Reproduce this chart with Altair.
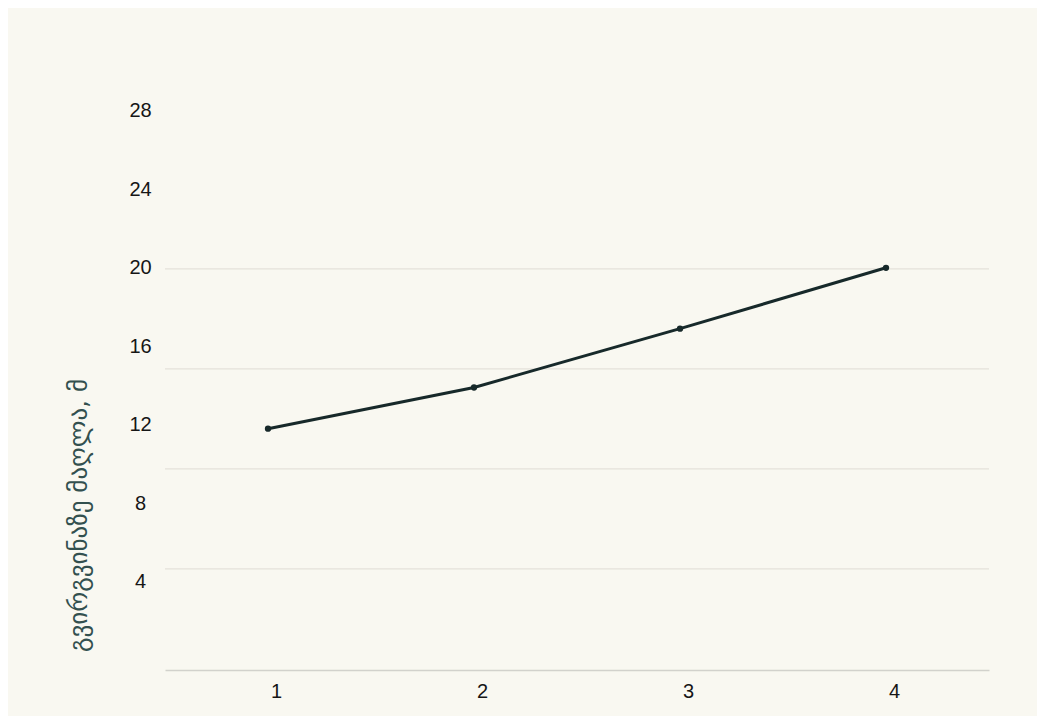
import altair as alt
import pandas as pd

# data
x_vals = [1, 2, 3, 4]
y_vals = [11.8, 13.9, 16.9, 20.0]
y_ticks = [4, 8, 12, 16, 20, 24, 28]
x_ticks = [1, 2, 3, 4]
grid_levels = [19.95, 14.85, 9.75, 4.65]
y_title = "გვირგვინაზე მაღლა, მ"

df = pd.DataFrame({"x": x_vals, "y": y_vals})
grid_df = pd.DataFrame({"g": grid_levels})

FONT = "Liberation Sans"
BG = "#f9f8f1"
LINE = "#17292a"

xscale = alt.Scale(domain=[0.5, 4.5], nice=False, zero=False)
yscale = alt.Scale(domain=[-0.5, 31], nice=False, zero=False)

x_axis = alt.Axis(
    values=x_ticks,
    title=None,
    grid=False,
    ticks=False,
    domain=True,
    domainColor="#d2d2cc",
    domainWidth=1.5,
    labelFont=FONT,
    labelFontSize=20,
    labelColor="#161616",
    labelPadding=11,
    labelOffset=8,
    format="d",
)

y_axis = alt.Axis(
    values=y_ticks,
    title=y_title,
    grid=False,
    ticks=False,
    domain=False,
    labelFont=FONT,
    labelFontSize=20,
    labelColor="#161616",
    labelAlign="center",
    labelPadding=25,
    titleFont="DejaVu Sans",
    titleFontSize=25,
    titleFontWeight="normal",
    titleColor="#33504f",
    titleAngle=270,
    titleAlign="center",
    titleBaseline="middle",
    titleX=-87,
    titleY=463,
)

grid = alt.Chart(grid_df).mark_rule(color="#e4e2da", strokeWidth=1.2).encode(
    y=alt.Y("g:Q", scale=yscale, axis=y_axis),
    x=alt.value(0),
    x2=alt.value(824),
)

line = alt.Chart(df).mark_line(color=LINE, strokeWidth=3).encode(
    x=alt.X("x:Q", scale=xscale, axis=x_axis),
    y=alt.Y("y:Q", scale=yscale, axis=y_axis),
)

points = alt.Chart(df).mark_circle(color=LINE, size=40, opacity=1).encode(
    x=alt.X("x:Q", scale=xscale, axis=x_axis),
    y=alt.Y("y:Q", scale=yscale, axis=y_axis),
)

chart = (
    alt.layer(grid, line, points)
    .properties(
        width=824,
        height=618,
        background=BG,
        autosize=alt.AutoSizeParams(type="none"),
        padding={"left": 157, "top": 44, "right": 48, "bottom": 46},
    )
    .configure_view(stroke=None)
)

chart.save("out.html", embed_options={"renderer": "svg", "actions": False})
